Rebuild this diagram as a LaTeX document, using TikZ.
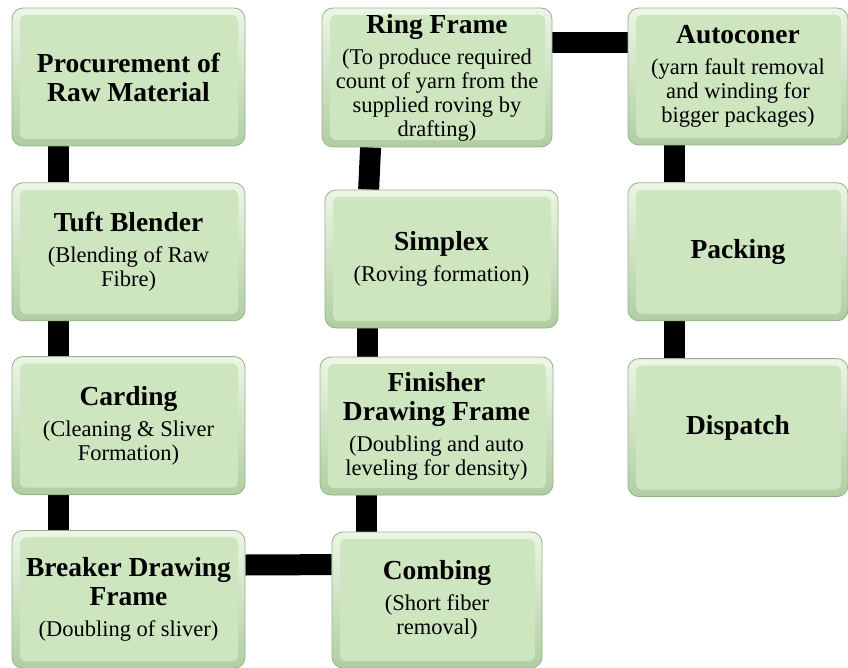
\documentclass[tikz,border=0pt]{standalone}
\usepackage{fontspec}
\setmainfont{Liberation Serif}
\usepackage{tikz}
\usetikzlibrary{positioning, backgrounds}
\definecolor{boxface}{RGB}{205,230,192}
\definecolor{edgelight}{RGB}{236,246,230}
\definecolor{edgedark}{RGB}{176,206,162}
\definecolor{boxline}{RGB}{150,176,140}
\newcommand{\stagetitle}[1]{{\fontsize{27.5}{29}\selectfont\bfseries\spaceskip=0pt\xspaceskip=0pt #1\par}}
\newcommand{\stagetext}[1]{\vspace{7pt}{\fontsize{22.5}{24}\selectfont\spaceskip=0pt\xspaceskip=0pt #1\par}}
\tikzstyle{stage} = [rectangle, rounded corners=11pt, draw=boxline, line width=0.8pt, top color=edgelight, bottom color=edgedark, minimum width=233pt, minimum height=138pt, inner sep=0pt, text width=228pt, execute at begin node=\centering, path picture={\fill[boxface, rounded corners=6pt] ([shift={(8pt,7pt)}]path picture bounding box.south west) rectangle ([shift={(-7pt,-7pt)}]path picture bounding box.north east);}]
\tikzstyle{link} = [line width=21pt, black]

\begin{document}
\begin{tikzpicture}[x=1pt, y=-1pt]

    \useasboundingbox (0, 0) rectangle (848, 668);

    \node (proc) [stage] at (128.5, 77) {\stagetitle{Procurement of\\Raw Material}};
    \node (tuft) [stage, below=36pt of proc] {\stagetitle{Tuft Blender}\stagetext{(Blending of Raw\\Fibre)}};
    \node (card) [stage, below=35pt of tuft] {\stagetitle{Carding}\stagetext{(Cleaning \& Sliver\\Formation)}};
    \node (brk) [stage, below=35pt of card] {\stagetitle{Breaker Drawing\\Frame}\stagetext{(Doubling of sliver)}};
    \node (comb) [stage, minimum width=210pt, minimum height=136pt, text width=205pt] at (437, 600) {\stagetitle{Combing}\stagetext{(Short fiber\\removal)}};
    \node (fin) [stage] at (436.5, 426) {\stagetitle{Finisher\\Drawing Frame}\stagetext{(Doubling and auto\\leveling for density)}};
    \node (simp) [stage] at (441.5, 259) {\stagetitle{Simplex}\stagetext{(Roving formation)}};
    \node (ring) [stage, minimum width=230pt, minimum height=139pt] at (437, 77.5) {\stagetitle{Ring Frame}\stagetext{(To produce required\\count of yarn from the\\supplied roving by\\drafting)}};
    \node (auto) [stage, minimum width=220pt, minimum height=137pt, text width=216pt] at (738, 76.5) {\stagetitle{Autoconer}\stagetext{(yarn fault removal\\and winding for\\bigger packages)}};
    \node (pack) [stage, minimum width=220pt, text width=216pt, below=37pt of auto] {\stagetitle{Packing}};
    \node (disp) [stage, minimum width=220pt, text width=216pt, below=37pt of pack] {\stagetitle{Dispatch}};

    \begin{scope}[on background layer]
        \draw [link] ([xshift=47pt]proc.south west) -- ([xshift=47pt]tuft.north west);
        \draw [link] ([xshift=47pt]tuft.south west) -- ([xshift=47pt]card.north west);
        \draw [link] ([xshift=47pt]card.south west) -- ([xshift=47pt]brk.north west);
        \draw [link] ([yshift=-35pt]brk.north east) -- ([yshift=-33pt]comb.north west);
        \draw [link] ([xshift=35pt]comb.north west) -- ([xshift=47pt]fin.south west);
        \draw [link] ([xshift=48pt]fin.north west) -- ([xshift=43pt]simp.south west);
        \draw [link] ([xshift=44pt]simp.north west) -- ([xshift=49pt]ring.south west);
        \draw [link] ([yshift=-35pt]ring.north east) -- ([yshift=-35pt]auto.north west);
        \draw [link] ([xshift=47pt]auto.south west) -- ([xshift=47pt]pack.north west);
        \draw [link] ([xshift=47pt]pack.south west) -- ([xshift=47pt]disp.north west);
    \end{scope}

\end{tikzpicture}
\end{document}
